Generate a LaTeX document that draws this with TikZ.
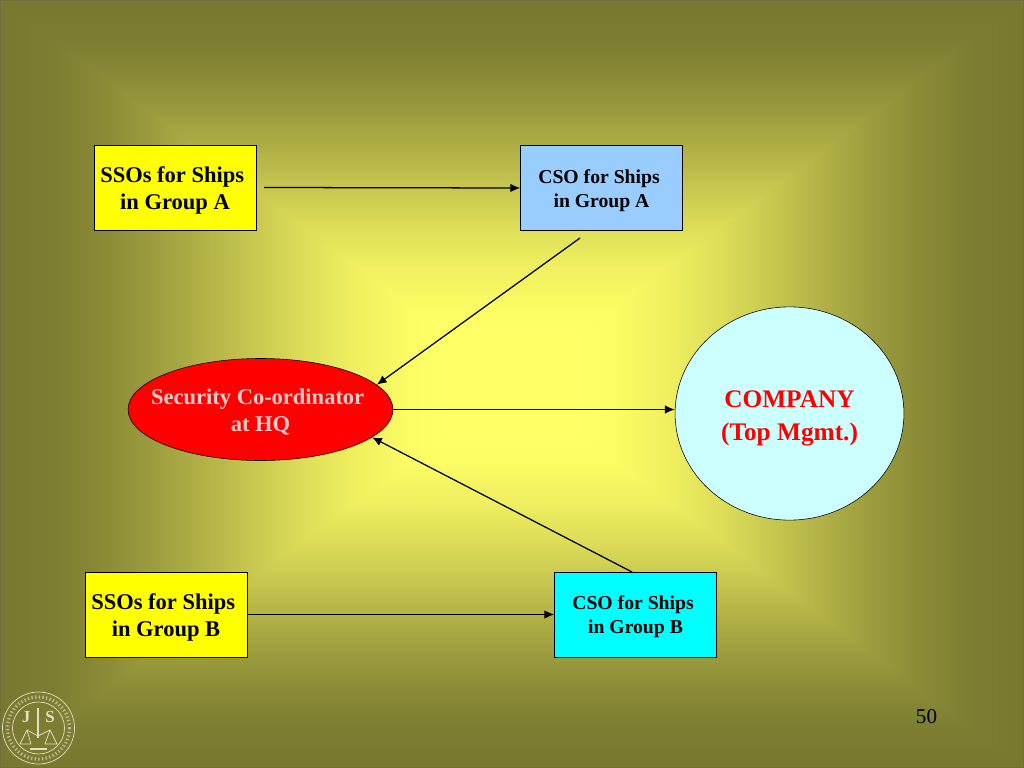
\documentclass[tikz,border=0pt]{standalone}
\usepackage{fontspec}
\setmainfont{Liberation Serif}
\usetikzlibrary{shapes.geometric,arrows.meta}
\definecolor{bgedge}{RGB}{120,120,48}
\definecolor{bgmid}{RGB}{255,255,102}
\definecolor{bgframe}{RGB}{112,112,62}
\definecolor{sealcol}{RGB}{225,225,195}
\definecolor{ssofill}{RGB}{255,255,0}
\definecolor{csoafill}{RGB}{153,204,255}
\definecolor{csobfill}{RGB}{0,255,255}
\definecolor{hqfill}{RGB}{255,0,0}
\definecolor{hqtext}{RGB}{255,204,204}
\definecolor{companyfill}{RGB}{204,255,255}
\pgfdeclareverticalshading{bgramp}{100bp}{color(0bp)=(bgmid);color(31bp)=(bgmid);
  color(35bp)=(bgmid!97.7!bgedge);color(40bp)=(bgmid!89.2!bgedge);color(45bp)=(bgmid!76!bgedge);
  color(50bp)=(bgmid!60!bgedge);color(55bp)=(bgmid!43.2!bgedge);color(60bp)=(bgmid!27!bgedge);
  color(65bp)=(bgmid!13.1!bgedge);color(70bp)=(bgmid!3.6!bgedge);color(75bp)=(bgedge);color(100bp)=(bgedge)}
\newcommand{\trailgap}{\hspace*{.25em}}
\newcommand{\linedrop}[1]{\rule{0pt}{#1em}}
\tikzset{
  shipbox/.style={draw=black,rectangle,minimum width=4.05cm,minimum height=2.12cm,inner sep=0pt,align=center,text=black},
  ssolabel/.style={shipbox,fill=ssofill,font=\fontsize{16}{19.3}\selectfont\bfseries},
  csolabel/.style={shipbox,font=\fontsize{14}{17}\selectfont\bfseries},
  link/.style={-{Latex[length=7pt,width=6pt]},line width=0.9pt,black},
}
\begin{document}
\begin{tikzpicture}[x=0.025cm,y=-0.025cm]
    \useasboundingbox (0,0) rectangle (1024,768);
    % background
    \shade[shading=bgramp,shading angle=90] (0,0) rectangle (512,768);
    \shade[shading=bgramp,shading angle=270] (512,0) rectangle (1024,768);
    \shade[shading=bgramp,shading angle=0] (0,0)--(1024,0)--(512,384)--cycle;
    \shade[shading=bgramp,shading angle=180] (0,768)--(1024,768)--(512,384)--cycle;
    \draw[bgframe,line width=1pt] (0,0) rectangle (1024,768);
    % boxes
    \node[ssolabel] (ssoa) at (175,188) {\linedrop{.95}SSOs for Ships\trailgap\\ in Group A};
    \node[csolabel,fill=csoafill] (csoa) at (601.5,188) {\linedrop{.95}CSO for Ships\trailgap\\ in Group A};
    \node[ssolabel] (ssob) at (166,614.5) {\linedrop{.95}SSOs for Ships\trailgap\\ in Group B};
    \node[csolabel,fill=csobfill] (csob) at (635.5,614.5) {\linedrop{.95}CSO for Ships\trailgap\\ in Group B};
    \node[draw=black,fill=hqfill,ellipse,minimum width=6.62cm,minimum height=2.55cm,inner sep=0pt] (coord) at (260.5,409.5) {};
    \node[align=center,text=hqtext,font=\fontsize{16}{19.3}\selectfont\bfseries] (coordlabel) at (coord) {\linedrop{.95}Security Co-ordinator\trailgap\\ at HQ};
    \node[draw=black,fill=companyfill,ellipse,minimum width=5.72cm,minimum height=5.33cm,inner sep=0pt] (company) at (789.5,413.5) {};
    \node[align=center,text=hqfill,font=\fontsize{18}{23}\selectfont\bfseries] (companylabel) at (company) {\linedrop{1.05}COMPANY\\ (Top Mgmt.)};
    \node[font=\fontsize{15}{18}\selectfont,text=black] (pagenum) at (926.5,717) {50};
    % free ends of the arrows
    \coordinate (ssoaout) at (264,187.5);
    \coordinate (csoaout) at (580,238);
    \coordinate (csobout) at (632,572);
    \draw[link] (ssoaout)--(csoa.west);
    \draw[link] (csoaout)--(coord.12.6);
    \draw[link] (coord.east)--(coord.east-|company.west);
    \draw[link] (ssob.east)--(csob.west);
    \draw[link] (csobout)--(coord.-14);
    % seal
    \begin{scope}[draw=sealcol,line width=0.5pt]
      \draw (38.5,728) circle[radius=36];
      \draw (38.5,728) circle[radius=26];
      \draw[line width=2.4pt,dash pattern=on 1pt off 1.6pt,opacity=.6] (38.5,728) circle[radius=31];
      \draw[line width=1.6pt] (38,708)--(38,738);
      \draw (27,730)--(38,736)--(50,730);
      \draw (27,730)--(20,744)--(31,744)--cycle;
      \draw (50,730)--(45,744)--(57,744)--cycle;
      \draw[line width=1pt] (30,749)--(47,749);
      \node[text=sealcol,font=\fontsize{12}{12}\selectfont\bfseries] (sealj) at (26,717) {J};
      \node[text=sealcol,font=\fontsize{12}{12}\selectfont\bfseries] (seals) at (50,717) {S};
    \end{scope}
\end{tikzpicture}
\end{document}
